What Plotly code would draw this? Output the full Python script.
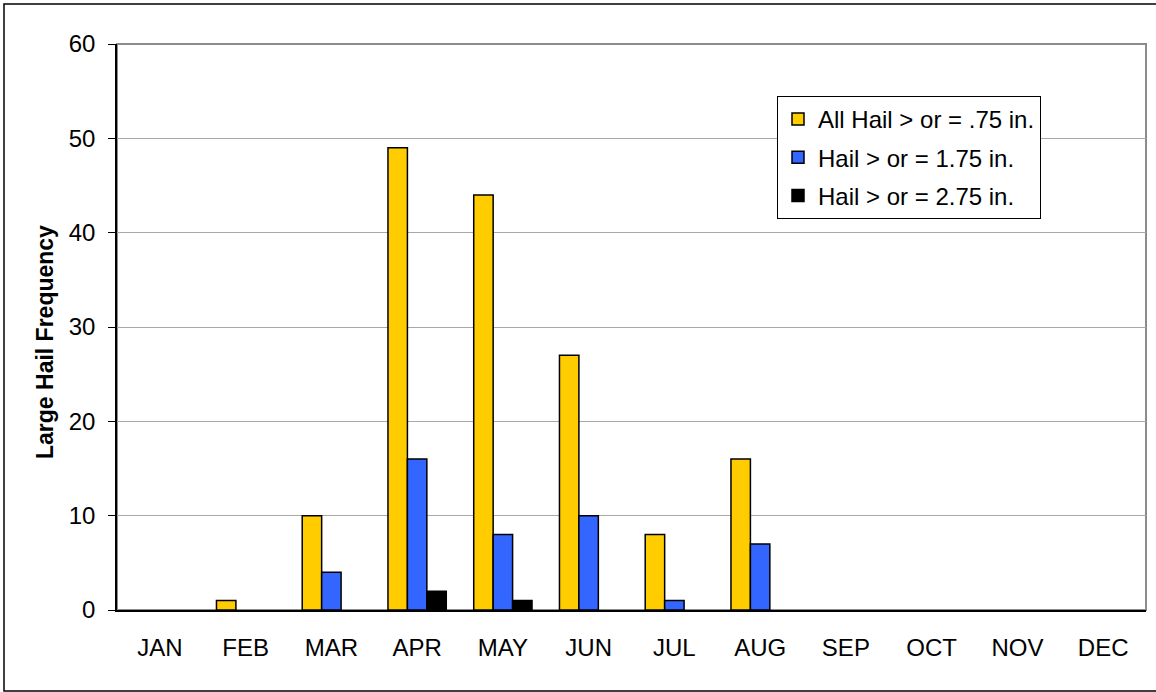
import plotly.graph_objects as go

months = ["JAN", "FEB", "MAR", "APR", "MAY", "JUN", "JUL", "AUG", "SEP", "OCT", "NOV", "DEC"]
hail_075 = [0, 1, 10, 49, 44, 27, 8, 16, 0, 0, 0, 0]
hail_175 = [0, 0, 4, 16, 8, 10, 1, 7, 0, 0, 0, 0]
hail_275 = [0, 0, 0, 2, 1, 0, 0, 0, 0, 0, 0, 0]
series_names = ["All Hail > or = .75 in.", "Hail > or = 1.75 in.", "Hail > or = 2.75 in."]
series_colors = ["#FFCC00", "#3366FF", "#000000"]
y_title = "Large Hail Frequency"

W, H = 1156, 692
L, R, T, B = 117, 10, 44, 82
pw, ph = W - L - R, H - T - B
FS = 24

fig = go.Figure()
for i, (name, vals, col) in enumerate(zip(series_names, [hail_075, hail_175, hail_275], series_colors)):
    fig.add_trace(go.Bar(
        x=months, y=[v if v > 0 else None for v in vals], name=name, legendgroup=f"g{i}",
        marker=dict(color=col, line=dict(color="#000000", width=1.5)),
    ))

def px_x(p):
    return (p - L) / pw

def px_y(p):
    return (H - B - p) / ph

fig.update_layout(
    width=W, height=H,
    margin=dict(l=L, r=R, t=T, b=B),
    paper_bgcolor="white", plot_bgcolor="white",
    font=dict(family="Liberation Sans, Arial, sans-serif", size=FS, color="#000000"),
    barmode="group", bargap=0.32, bargroupgap=0,
    showlegend=True,
    legend=dict(
        x=px_x(777), y=px_y(96), xanchor="left", yanchor="top",
        bordercolor="#000000", borderwidth=1, bgcolor="white",
        font=dict(size=FS), traceorder="grouped", tracegroupgap=4,
    ),
    xaxis=dict(
        showgrid=False, showline=True, linecolor="#000000", linewidth=1.5,
        ticks="", ticklabelstandoff=15, tickfont=dict(size=FS),
    ),
    yaxis=dict(
        range=[0, 60], dtick=10, showgrid=True, gridcolor="#A8A8A8", gridwidth=1,
        showline=True, linecolor="#000000", linewidth=1.5, zeroline=False,
        ticks="outside", ticklen=7, tickcolor="#000000", tickwidth=1,
        ticklabelstandoff=8, tickfont=dict(size=FS),
    ),
    annotations=[
        dict(text=f"<b>{y_title}</b>", xref="paper", yref="paper",
             x=px_x(45), y=px_y(342), xanchor="center", yanchor="middle",
             textangle=-90, showarrow=False, font=dict(size=23)),
    ],
    shapes=[
        dict(type="rect", xref="paper", yref="paper", x0=0, x1=1, y0=0, y1=1,
             line=dict(color="#8C8C8C", width=2), layer="below"),
        dict(type="rect", xref="paper", yref="paper",
             x0=px_x(4), x1=px_x(1175), y0=px_y(691), y1=px_y(4),
             line=dict(color="#000000", width=1.5), layer="below"),
    ],
)

fig.write_html("out.html", config={"displayModeBar": False},
               post_script="document.body.style.margin='0';")
